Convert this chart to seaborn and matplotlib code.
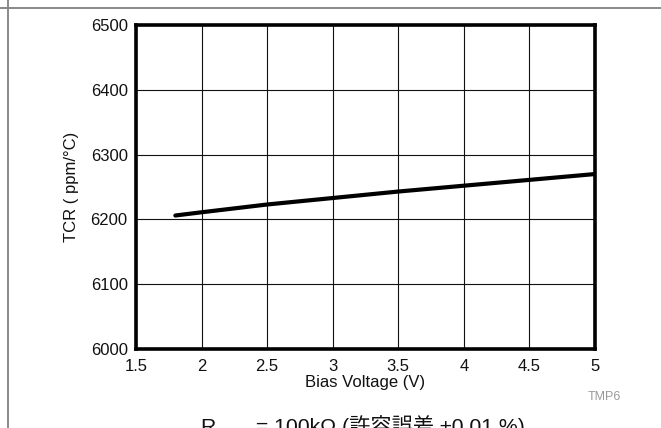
import matplotlib
matplotlib.use("Agg")
import matplotlib.pyplot as plt
from matplotlib.lines import Line2D
import seaborn as sns
import pandas as pd

# TCR vs. bias voltage readings
bias_voltage = [1.8, 2.0, 2.5, 3.0, 3.5, 4.0, 4.5, 5.0]
tcr_ppm = [6206, 6211, 6223, 6233, 6243, 6252, 6261, 6270]

x_ticks = [1.5, 2, 2.5, 3, 3.5, 4, 4.5, 5]
x_tick_labels = ["1.5", "2", "2.5", "3", "3.5", "4", "4.5", "5"]
y_ticks = [6000, 6100, 6200, 6300, 6400, 6500]
y_tick_labels = ["6000", "6100", "6200", "6300", "6400", "6500"]

df = pd.DataFrame({"voltage": bias_voltage, "tcr": tcr_ppm})

sns.set_style("white")
plt.rcParams["font.family"] = ["Liberation Sans", "Noto Sans CJK JP", "DejaVu Sans"]

fig = plt.figure(figsize=(6.61, 4.28), dpi=100)
ax = fig.add_axes([136 / 661, 1 - 349 / 428, (595 - 136) / 661, (349 - 25) / 428])

sns.lineplot(data=df, x="voltage", y="tcr", color="black", linewidth=3.0, ax=ax,
             zorder=5)

ax.set_xlim(1.5, 5)
ax.set_ylim(6000, 6500)
ax.set_xticks(x_ticks)
ax.set_xticklabels(x_tick_labels)
ax.set_yticks(y_ticks)
ax.set_yticklabels(y_tick_labels)
ax.tick_params(axis="both", length=0, labelsize=12, colors="#111111")
ax.tick_params(axis="x", pad=7)
ax.tick_params(axis="y", pad=6)
ax.grid(True, color="#111111", linewidth=0.8)
for s in ax.spines.values():
    s.set_visible(True)
    s.set_color("black")
    s.set_linewidth(2.6)
    s.set_zorder(6)

ax.set_xlabel("Bias Voltage (V)", fontsize=12, labelpad=1, color="#111111")
ax.set_ylabel("TCR ( ppm/°C)", fontsize=12, labelpad=8, color="#111111")

# page frame rules
fig.add_artist(Line2D([0, 1], [1 - 7.5 / 428] * 2, transform=fig.transFigure,
                      color="#808080", linewidth=1.3))
fig.add_artist(Line2D([7.5 / 661] * 2, [0, 1], transform=fig.transFigure,
                      color="#808080", linewidth=1.3))

fig.text(604 / 661, 1 - 397.5 / 428, "TMP6", fontsize=9, color="#9a9a9a",
         ha="center", va="center")

# caption below the chart: R_BIAS = 100kΩ (許容誤差 ±0.01 %)
base_y = 1 - 433 / 428
r_txt = fig.text(200 / 661, base_y, "R", fontsize=15.3, color="#111111",
                 ha="left", va="baseline")
ax.annotate("BIAS", xy=(1, 0), xycoords=r_txt, xytext=(1, -4.5),
            textcoords="offset pixels", fontsize=10, color="#111111",
            ha="left", va="bottom", annotation_clip=False)
ax.annotate(" = 100kΩ (許容誤差 ±0.01 %)", xy=(1, 0), xycoords=r_txt,
            xytext=(35, 0), textcoords="offset pixels", fontsize=15.3,
            color="#111111", ha="left", va="bottom", annotation_clip=False)

fig.savefig("out.png", dpi=100)
